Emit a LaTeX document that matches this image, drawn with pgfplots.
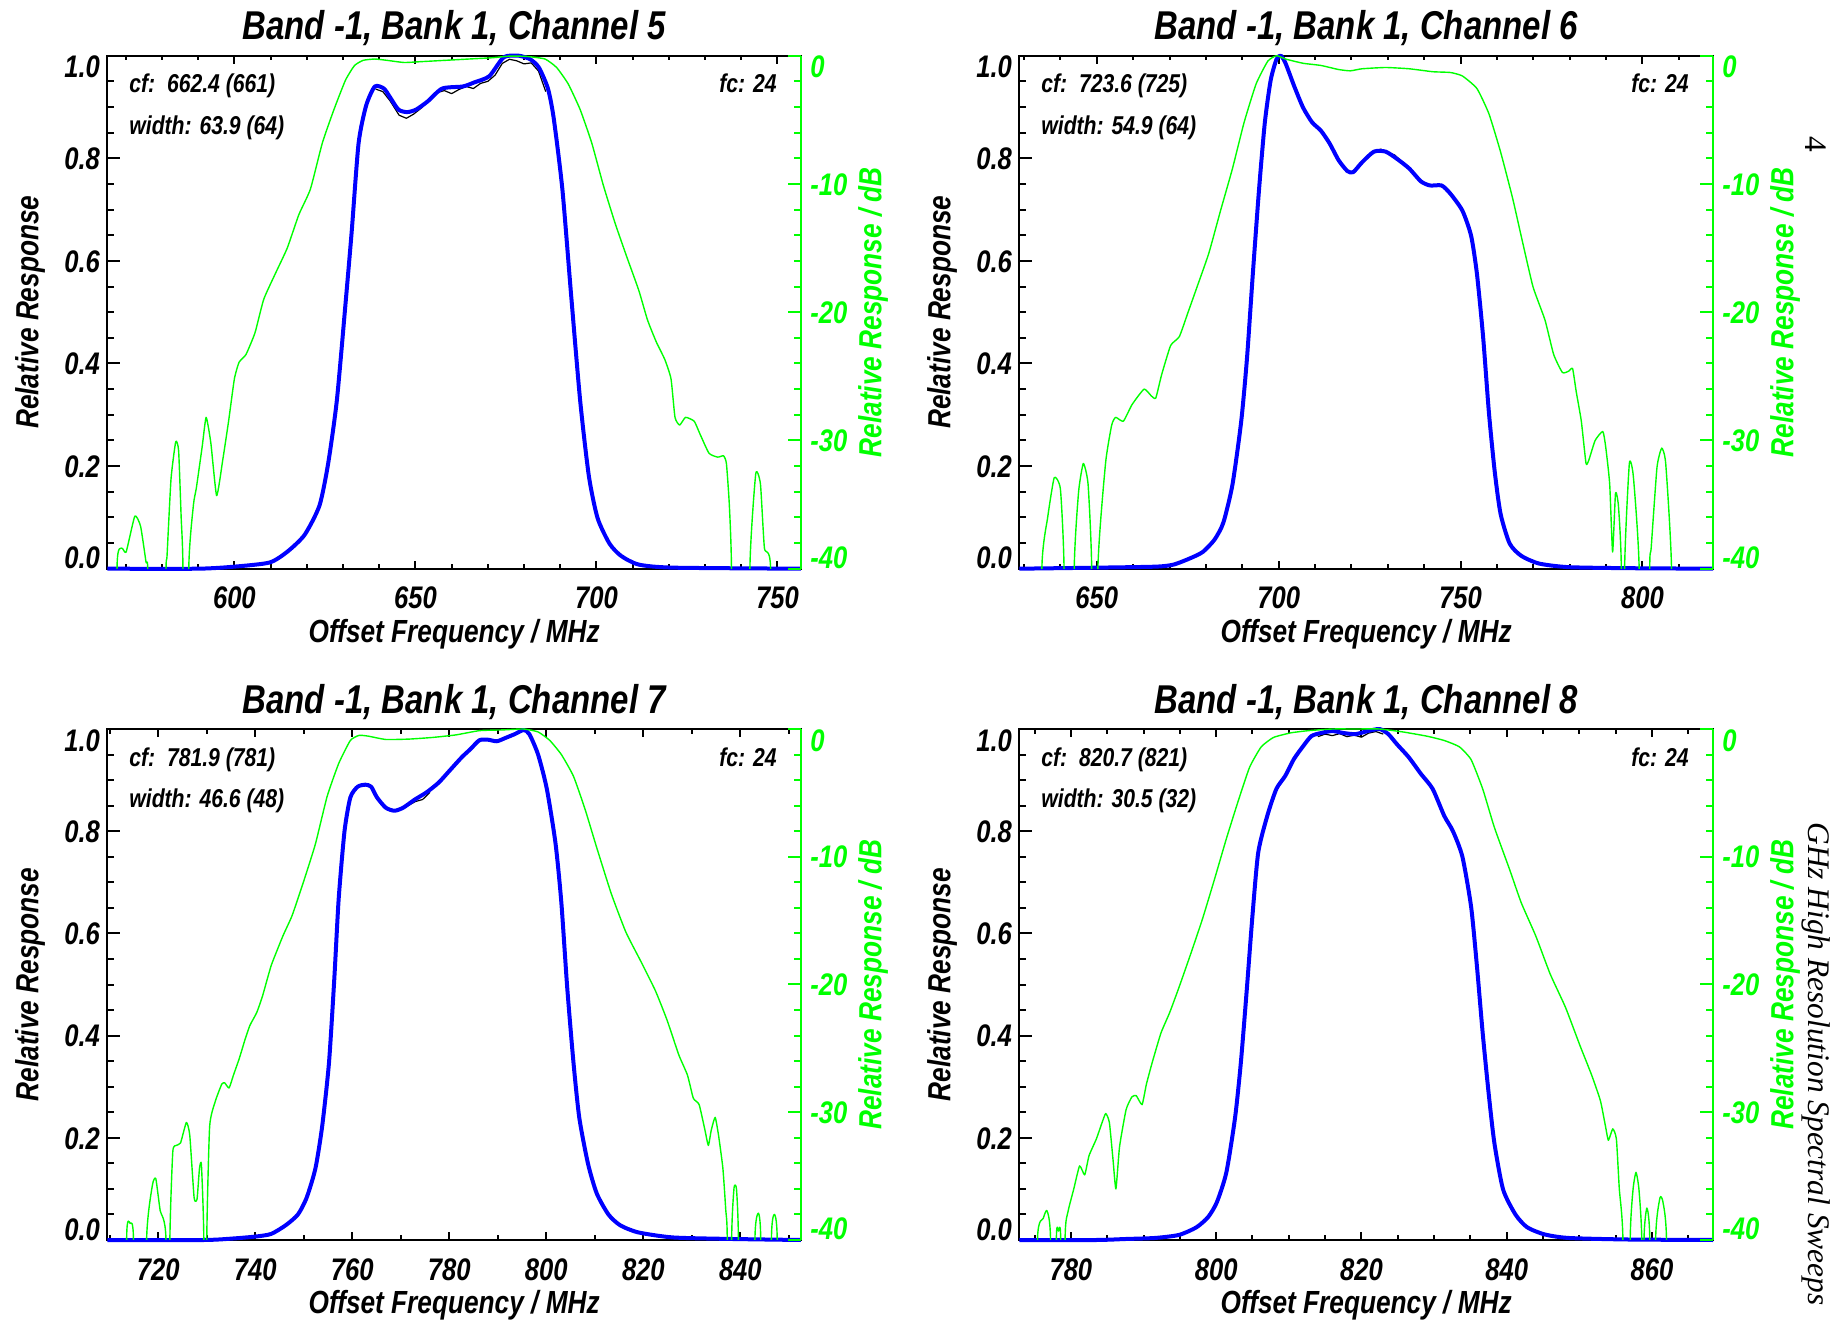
\documentclass[border=0pt]{standalone}
\usepackage{fontspec}
\setmainfont{Liberation Sans}[FakeStretch=0.82]
\newfontfamily\hdrfont{Liberation Serif}
\usepackage{pgfplots}
\pgfplotsset{compat=1.18}
\definecolor{idlblue}{RGB}{0,0,255}
\definecolor{idlgreen}{RGB}{0,255,0}
\newlength\tlraise
\newcommand\edgelab[2]{\ifnum\ticknum=0 \tlraise=0pt\else\ifnum\ticknum=#1 \tlraise=-11.1pt\else\tlraise=-5.6pt\fi\fi\smash{\raisebox{\tlraise}{#2}}}
\newcommand\tfont{\fontsize{15.6}{15.6}\selectfont\bfseries\itshape}
\newcommand\lfont{\fontsize{16}{16}\selectfont\bfseries\itshape}
\newcommand\ttlfont{\fontsize{20.1}{20.1}\selectfont\bfseries\itshape}
\newcommand\afont{\fontsize{12.9}{12.9}\selectfont\bfseries\itshape}
\pgfplotsset{
  common/.style={scale only axis, width=346.85pt, height=256.5pt, anchor=south west,
    tick align=inside, /pgf/number format/assume math mode=true},
  leftax/.style={common, ymin=0, ymax=1, clip=false,
    axis line style={line width=1pt},
    tick style={line width=1pt, black},
    ytick pos=left, xtick pos=both,
    ytick={0,0.2,0.4,0.6,0.8,1}, minor ytick={0,0.05,...,1.01},
    major tick length=6.5pt, minor tick length=3.3pt,
    xtick style={/pgfplots/major tick length=4pt,/pgfplots/minor tick length=2.3pt},
    yticklabel={\edgelab{5}{\pgfmathprintnumber[fixed,fixed zerofill,precision=1]{\tick}}},
    yticklabel style={anchor=east, inner sep=0pt, xshift=-3.5pt, font=\tfont},
    xticklabel={\pgfmathprintnumber[fixed,precision=0]{\tick}},
    xticklabel style={anchor=base, inner sep=0pt, yshift=-20pt, font=\tfont}},
  rightax/.style={common, ymin=-40, ymax=0, axis x line=none, axis y line*=right,
    ytick={-40,-30,-20,-10,0}, minor ytick={-40,-38,...,0},
    y axis line style={idlgreen, line width=1pt},
    tick style={idlgreen, line width=1pt},
    major tick length=6.5pt, minor tick length=3.5pt,
    yticklabel={\edgelab{4}{\pgfmathprintnumber{\tick}}},
    yticklabel style={anchor=west, inner sep=0pt, xshift=4.5pt, font=\tfont, text=idlgreen}},
  blueline/.style={idlblue, line width=2pt, line join=round, smooth, tension=0.4},
  greenline/.style={idlgreen, line width=0.7pt, line join=round, smooth, tension=0.3},
  rawline/.style={black, line width=0.6pt, line join=round},
}
\newcommand\decor[4]{%
  \node[anchor=base, inner sep=0pt, font=\ttlfont] at (rel axis cs:0.5,1.0306) {Band -1, Bank 1, Channel #1};
  \node[anchor=base west, inner sep=0pt, font=\afont] at (rel axis cs:0.0313,0.9273) {cf:\ \ #2};
  \node[anchor=base west, inner sep=0pt, font=\afont] at (rel axis cs:0.0313,0.846) {width: #3};
  \node[anchor=base east, inner sep=0pt, font=\afont] at (rel axis cs:0.9654,0.9273) {fc: 24};
  \node[anchor=base, inner sep=0pt, font=\lfont] at (rel axis cs:0.5,-0.1437) {Offset Frequency / MHz};
  \node[anchor=base, inner sep=0pt, font=\lfont, rotate=90] at (rel axis cs:-0.0992,0.5) {Relative Response};
  \node[anchor=base, inner sep=0pt, font=\lfont, rotate=90, text=idlgreen] at (rel axis cs:1.116,0.5) {Relative Response / dB};
}
\begin{document}
\begin{tikzpicture}
\useasboundingbox (0,0) rectangle (921.5pt,662pt);
% ---------------- Channel 5 ----------------
\begin{axis}[leftax, at={(53.65pt,377.65pt)}, xmin=564.9, xmax=756.5,
  xtick={600,650,700,750}, minor xtick={570,580,...,750}]
\addplot[rawline] coordinates {(639,0.935)(641,0.930)(643,0.912)(645.5,0.884)(647.5,0.878)(649.5,0.886)(652,0.900)(654,0.915)(656,0.928)(658,0.932)(660,0.926)(662,0.934)(664,0.940)(666,0.936)(668,0.946)(670,0.950)(672,0.962)(674,0.985)(676,0.993)(678,0.990)(680,0.984)(682,0.986)(684,0.970)(686,0.930)};
\addplot[blueline] coordinates {(564.9,0.0)(590,0.0)(600.0,0.004)(609.7,0.012)(614.6,0.033)(619.4,0.066)(623.5,0.123)(625.9,0.205)(628.3,0.328)(630.7,0.517)(632.4,0.657)(634.3,0.829)(636.4,0.903)(638.8,0.940)(641.3,0.936)(642.9,0.920)(645.3,0.895)(647.7,0.890)(650.2,0.895)(653.4,0.911)(657.4,0.936)(663.1,0.940)(666.3,0.948)(670.4,0.960)(674.4,0.997)(678.5,1.0)(681.7,0.993)(684.1,0.977)(686.6,0.936)(688.2,0.878)(690.6,0.739)(693.0,0.534)(695.5,0.328)(697.9,0.181)(700.3,0.099)(703.6,0.049)(706.8,0.025)(711.7,0.008)(721.4,0.002)(756.5,0.0)};
\decor{5}{662.4 (661)}{63.9 (64)}{}
\end{axis}
\begin{axis}[rightax, at={(53.65pt,377.65pt)}, xmin=564.9, xmax=756.5]
\addplot[greenline] coordinates {(565,-60)(567.3,-60)(567.6,-39.8)(568.9,-38.4)(570.1,-38.7)(572.5,-35.9)(574.1,-36.7)(575.6,-39.5)(576.1,-40.5)(576.4,-60)
(580.9,-60)(581.1,-40.5)(581.4,-39)(582.5,-33)(583.8,-30.1)(584.6,-30.8)(585.3,-36)(585.8,-40)(586.1,-60)
(587.2,-60)(587.4,-40)(588.7,-35)(589.5,-33.7)(591.1,-30.5)(592.2,-28.2)(593.5,-30.2)(595.1,-34.3)(596.8,-31.5)(598.4,-28.5)(600.0,-25.2)(601.3,-23.9)(603.2,-23.3)(605.7,-21.6)(608.1,-19.0)(611.3,-17.0)(614.6,-15.0)(617.8,-12.4)(621.0,-10.4)(624.3,-6.8)(627.5,-4.2)(630.7,-1.9)(633.2,-0.76)(635.6,-0.36)(638.8,-0.26)(642.1,-0.36)(646.9,-0.53)(651.8,-0.46)(658.3,-0.36)(664.7,-0.26)(671.2,-0.16)(676.1,-0.03)(680.9,-0.06)(685.8,-0.26)(689.0,-0.92)(692.2,-2.2)(695.5,-4.2)(698.7,-6.8)(701.9,-10.1)(705.2,-13.1)(708.4,-15.7)(711.7,-18.3)(714.1,-20.6)(716.5,-22.3)(718.9,-23.7)(720.6,-25.2)(721.7,-28.2)(723.0,-28.8)(724.6,-28.2)(727.0,-28.5)(728.6,-29.5)(731.1,-31.0)(733.5,-31.3)(735.1,-31.2)(735.9,-31.8)(736.7,-35)(737.3,-40)(737.6,-60)
(742.2,-60)(742.4,-39.8)(744.0,-32.6)(745.3,-33.4)(746.4,-38.4)(748.1,-40)(748.4,-60)(756.5,-60)};
\end{axis}
% ---------------- Channel 6 ----------------
\begin{axis}[leftax, at={(509.65pt,377.65pt)}, xmin=628.7, xmax=819.4,
  xtick={650,700,750,800}, minor xtick={630,640,...,810}]
\addplot[rawline] coordinates {(726,0.811)(728,0.818)(730,0.812)(732,0.806)(734,0.792)};
\addplot[blueline] coordinates {(628.7,0)(650,0.002)(666.2,0.004)(671.1,0.008)(675.9,0.021)(679.2,0.033)(682.4,0.057)(684.8,0.090)(687.3,0.164)(689.7,0.287)(691.3,0.411)(692.9,0.575)(694.6,0.739)(696.2,0.870)(697.8,0.952)(699.4,0.993)(700.6,1.0)(701.9,0.985)(704.3,0.940)(706.7,0.899)(709.2,0.870)(711.6,0.854)(714.0,0.829)(716.5,0.796)(718.9,0.775)(720.5,0.773)(722.9,0.792)(726.2,0.813)(729.4,0.813)(732.7,0.798)(735.9,0.780)(739.1,0.755)(741.6,0.747)(744.8,0.747)(747.2,0.731)(750.5,0.698)(752.9,0.649)(754.5,0.575)(756.2,0.452)(757.8,0.304)(759.4,0.189)(761.0,0.107)(763.5,0.049)(766.7,0.025)(771.6,0.010)(779.7,0.003)(795.9,0.001)(819.4,0)};
\decor{6}{723.6 (725)}{54.9 (64)}{}
\end{axis}
\begin{axis}[rightax, at={(509.65pt,377.65pt)}, xmin=628.7, xmax=819.4]
\addplot[greenline] coordinates {(628.7,-60)(634.7,-60)(634.9,-40)(636.5,-36)(638.3,-32.9)(640.0,-33.8)(641.0,-40)(641.2,-60)
(643.6,-60)(643.8,-40)(645.0,-34)(646.3,-31.8)(647.6,-33.4)(648.6,-40)(648.8,-60)
(650.1,-60)(650.3,-40)(652.4,-31.8)(654.1,-28.8)(655.2,-28.2)(657.3,-28.5)(659.7,-27.2)(663.0,-26.0)(664.9,-26.5)(666.2,-26.7)(667.8,-24.9)(670.3,-22.6)(672.7,-21.9)(675.1,-20.0)(677.6,-18.0)(680.8,-15.4)(684.0,-12.1)(687.3,-8.8)(690.5,-5.2)(693.8,-2.2)(697.0,-0.43)(699.4,0)(701.9,-0.26)(706.7,-0.59)(711.6,-0.76)(716.5,-1.08)(719.7,-1.18)(722.9,-1.02)(729.4,-0.92)(735.9,-1.02)(742.4,-1.25)(747.2,-1.31)(750.5,-1.58)(754.5,-2.56)(757.8,-4.53)(761.0,-7.5)(764.3,-11.1)(766.7,-14.1)(769.9,-18.0)(773.2,-20.6)(775.6,-23.3)(778.0,-24.7)(779.7,-24.6)(780.8,-24.4)(781.8,-26.2)(783.2,-28.5)(784.5,-31.8)(785.3,-31.5)(787.0,-30.0)(789.1,-29.3)(789.9,-30.5)(791.0,-33.4)(791.8,-38.7)(792.6,-34.1)(793.4,-35.1)(794.2,-40)(794.4,-60)
(794.9,-60)(795.1,-40)(796.4,-31.8)(797.5,-32.8)(799.1,-40)(799.3,-60)
(801.8,-60)(802.0,-40)(802.4,-38.4)(804.0,-32.1)(805.3,-30.6)(806.4,-31.8)(808.0,-40)(808.2,-60)(819.4,-60)};
\end{axis}
% ---------------- Channel 7 ----------------
\begin{axis}[leftax, at={(53.65pt,42pt)}, height=255.5pt, xmin=709.5, xmax=852.5,
  xtick={720,740,760,780,800,820,840}, minor xtick={710,720,...,850}]
\addplot[rawline] coordinates {(770,0.843)(771.5,0.850)(773,0.858)(774.5,0.862)(776,0.876)};
\addplot[blueline] coordinates {(709.5,0)(729.4,0.0)(735.5,0.003)(740.3,0.007)(743.3,0.012)(746.3,0.029)(748.8,0.050)(750.6,0.083)(752.4,0.140)(753.8,0.223)(755.2,0.347)(756.3,0.512)(757.2,0.668)(758.4,0.800)(759.6,0.866)(761.1,0.887)(762.7,0.891)(763.9,0.887)(765.1,0.866)(766.9,0.846)(768.7,0.840)(770.5,0.846)(772.9,0.862)(775.3,0.876)(777.8,0.895)(780.2,0.920)(782.6,0.945)(784.4,0.961)(786.2,0.978)(788.0,0.979)(789.8,0.976)(791.7,0.983)(793.5,0.990)(795.3,0.998)(796.5,0.990)(798.3,0.950)(800.1,0.883)(801.9,0.776)(803.1,0.660)(804.3,0.495)(805.6,0.347)(806.8,0.239)(808.6,0.149)(810.4,0.091)(812.8,0.050)(815.2,0.029)(818.9,0.015)(826.1,0.005)(838.2,0.002)(852.5,0)};
\decor{7}{781.9 (781)}{46.6 (48)}{}
\end{axis}
\begin{axis}[rightax, at={(53.65pt,42pt)}, height=255.5pt, xmin=709.5, xmax=852.5]
\addplot[greenline] coordinates {(709.5,-60)(713.3,-60)(713.5,-39.7)(714.2,-38.7)(714.9,-40)(715.1,-60)
(717.4,-60)(717.6,-40)(718.8,-35.7)(719.5,-35.2)(720.4,-37.7)(721.6,-40)(721.8,-60)
(722.2,-60)(722.4,-40)(723.0,-33.1)(723.7,-32.6)(724.6,-32.4)(725.8,-30.8)(726.5,-31.8)(727.4,-36.7)(728.0,-36.8)(728.5,-34.4)(728.9,-34.1)(729.4,-40)(729.6,-60)
(729.8,-60)(730.0,-40)(730.6,-31.1)(731.8,-29.1)(733.1,-27.8)(733.7,-27.7)(734.6,-28.1)(735.5,-27.1)(736.7,-25.8)(737.9,-24.3)(738.9,-23.2)(740.3,-22.2)(741.5,-20.9)(743.3,-18.5)(745.7,-16.2)(747.6,-14.6)(750.0,-11.9)(752.4,-9.0)(754.8,-5.3)(757.2,-2.7)(759.6,-0.9)(761.4,-0.5)(763.3,-0.56)(766.9,-0.82)(771.7,-0.79)(776.6,-0.66)(781.4,-0.46)(786.2,-0.13)(791.1,-0.07)(795.3,0)(798.3,-0.23)(800.7,-0.89)(803.1,-2.0)(805.6,-3.7)(808.0,-6.3)(810.4,-9.3)(813.4,-12.9)(816.4,-15.9)(819.5,-18.2)(822.5,-20.5)(824.9,-22.8)(827.3,-25.5)(829.1,-27.1)(830.3,-28.9)(831.5,-29.4)(832.7,-31.4)(833.4,-32.6)(834.0,-31.4)(834.8,-30.4)(835.5,-31.8)(836.4,-34.4)(837.0,-37.7)(837.3,-40)(837.5,-60)
(838.0,-60)(838.2,-40)(838.7,-35.9)(839.2,-36.0)(839.6,-40)(839.8,-60)
(842.8,-60)(843.0,-40)(843.7,-37.9)(844.2,-40)(844.4,-60)
(846.2,-60)(846.4,-40)(847.0,-38.0)(847.6,-40)(847.8,-60)(852.5,-60)};
\end{axis}
% ---------------- Channel 8 ----------------
\begin{axis}[leftax, at={(509.65pt,42pt)}, height=255.5pt, xmin=772.9, xmax=868.4,
  xtick={780,800,820,840,860}, minor xtick={775,780,...,865}]
\addplot[rawline] coordinates {(814,0.985)(815,0.990)(816,0.987)(817,0.991)(818,0.985)(819,0.988)(820,0.984)(821,0.992)(822,0.995)(823,0.990)};
\addplot[blueline] coordinates {(772.9,0)(783.5,0)(787.6,0.002)(791.6,0.004)(794.9,0.010)(797.3,0.025)(798.9,0.045)(800.1,0.074)(801.4,0.132)(802.6,0.239)(803.4,0.347)(804.2,0.487)(805.0,0.635)(805.8,0.759)(807.1,0.833)(808.3,0.883)(809.5,0.908)(810.7,0.941)(811.9,0.965)(813.1,0.986)(814.4,0.992)(816.0,0.996)(817.6,0.992)(819.2,0.990)(820.9,0.996)(822.5,1.0)(823.7,0.990)(824.9,0.970)(826.5,0.945)(828.2,0.912)(829.8,0.883)(831.4,0.830)(832.6,0.800)(833.9,0.750)(835.1,0.652)(835.9,0.536)(836.7,0.404)(837.5,0.289)(838.3,0.190)(839.5,0.099)(841.2,0.050)(842.8,0.025)(845.2,0.011)(848.5,0.004)(856.6,0.001)(868.4,0)};
\decor{8}{820.7 (821)}{30.5 (32)}{}
\end{axis}
\begin{axis}[rightax, at={(509.65pt,42pt)}, height=255.5pt, xmin=772.9, xmax=868.4]
\addplot[greenline] coordinates {(772.9,-60)(775.2,-60)(775.4,-40)(776.2,-38.3)(776.7,-37.7)(777.2,-40)(777.4,-60)
(777.8,-60)(778.0,-40)(778.3,-39.3)(778.6,-40)(778.8,-60)
(779.0,-60)(779.2,-40)(779.6,-37.8)(780.4,-36.0)(781.2,-34.2)(781.9,-34.9)(782.5,-33.4)(783.5,-32.1)(784.3,-30.8)(784.8,-30.1)(785.3,-30.8)(785.8,-33.7)(786.2,-36.0)(786.7,-32.7)(787.6,-29.8)(788.4,-28.8)(789.0,-28.7)(789.8,-29.4)(790.4,-27.8)(791.2,-26.1)(792.4,-23.8)(793.6,-22.2)(794.9,-20.2)(796.5,-17.6)(798.1,-14.9)(799.7,-11.9)(801.4,-8.6)(803.0,-5.7)(804.6,-3.0)(806.2,-1.4)(807.9,-0.66)(810.3,-0.3)(812.7,-0.13)(816.0,0)(819.2,0)(822.5,0)(825.7,-0.23)(829.0,-0.56)(831.4,-0.9)(833.5,-1.4)(835.1,-2.4)(836.7,-4.7)(838.3,-7.7)(840.4,-11.0)(842.0,-13.6)(844.0,-16.2)(846.0,-19.2)(848.1,-21.8)(850.1,-24.8)(851.7,-27.1)(852.9,-29.1)(853.6,-31.1)(854.0,-32.2)(854.6,-31.3)(855.1,-32.1)(855.5,-36.0)(856.0,-40)(856.2,-60)
(856.8,-60)(857.0,-40)(857.4,-36.0)(857.8,-34.7)(858.2,-36.0)(858.6,-40)(858.75,-55)(858.9,-40)(859.3,-37.5)(859.7,-40)(859.9,-60)
(860.3,-60)(860.5,-40)(861.1,-36.7)(861.5,-37.0)(862.0,-40)(862.2,-60)(868.4,-60)};
\end{axis}
\node[rotate=-90, font=\hdrfont\itshape\fontsize{15.7}{15.7}\selectfont, inner sep=0pt] at (908pt,130pt) {GHz High Resolution Spectral Sweeps};
\node[rotate=-90, font=\hdrfont\fontsize{15.7}{15.7}\selectfont, inner sep=0pt] at (908pt,590pt) {4};
\end{tikzpicture}
\end{document}
